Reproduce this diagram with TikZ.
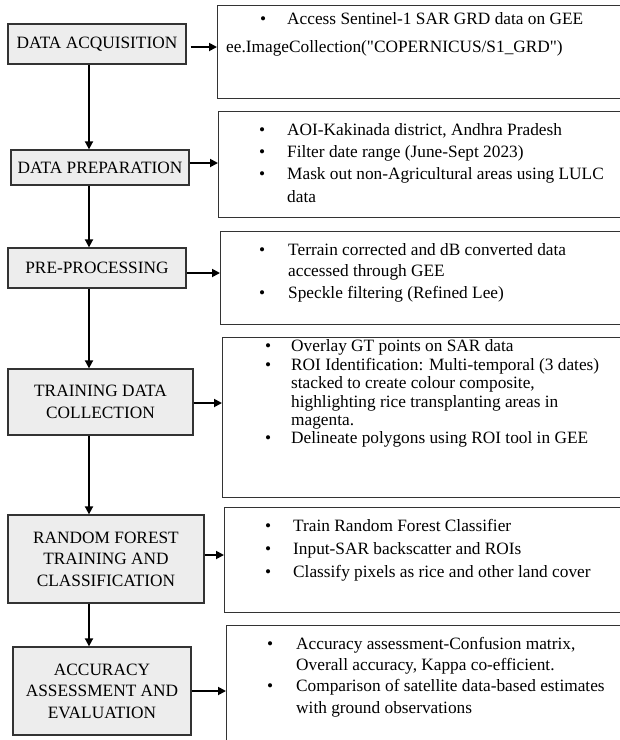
\documentclass[tikz,border=0pt]{standalone}
\usepackage{fontspec}
\setmainfont{Liberation Serif}[Ligatures=TeXOff]
\usetikzlibrary{arrows.meta}
\newcommand\itm[2]{\makebox[#1][l]{\textbullet}#2}
\newcommand\cnt[2]{\hspace*{#1}#2}
\begin{document}
\begin{tikzpicture}[x=1pt,y=-1pt,
  lbox/.style={draw=black!80, line width=1.3pt, fill=black!7, align=center,
    inner sep=0pt, font=\fontsize{17.3}{21.5}\selectfont},
  rbox/.style={draw=black!80, line width=1.3pt, anchor=north west, inner sep=0pt},
  rtext/.style={align=left, inner sep=0pt, anchor=north west,
    font=\fontsize{17.3}{#1}\selectfont},
  arr/.style={line width=1.8pt, -{Triangle[length=8pt,width=8pt]}}]
\clip (0,0) rectangle (620,740);
\fill[white] (0,0) rectangle (620,740);
\coordinate (col) at (89,0);
% left column
\node[lbox, minimum width=178pt, minimum height=40pt] (da) at (97,44) {DATA ACQUISITION};
\node[lbox, minimum width=178pt, minimum height=35pt] (dp) at (100,167.5) {DATA PREPARATION};
\node[lbox, minimum width=178pt, minimum height=40pt] (pp) at (97,268) {PRE-PROCESSING};
\node[lbox, minimum width=185pt, minimum height=66pt] (tdc) at (100.5,402) {TRAINING DATA\\COLLECTION};
\node[lbox, minimum width=196pt, minimum height=88pt] (rf) at (106,559) {RANDOM FOREST\\TRAINING AND\\CLASSIFICATION};
\node[lbox, minimum width=178pt, minimum height=88pt] (acc) at (102,691) {ACCURACY\\ASSESSMENT AND\\EVALUATION};
% right boxes
\node[rbox, minimum width=423pt, minimum height=93pt] (r1) at (217,5) {};
\node[rbox, minimum width=422pt, minimum height=106pt] (r2) at (218,111) {};
\node[rbox, minimum width=420pt, minimum height=93pt] (r3) at (220,231) {};
\node[rbox, minimum width=418pt, minimum height=160pt] (r4) at (222,337) {};
\node[rbox, minimum width=416pt, minimum height=105pt] (r5) at (224,507) {};
\node[rbox, minimum width=414pt, minimum height=135pt] (r6) at (226,625) {};
% right texts
\node[rtext=28] (t1) at (226,4.4) {\strut\cnt{34pt}{\itm{27pt}{Access Sentinel-1 SAR GRD data on GEE}}\\
  ee.ImageCollection("COPERNICUS/S1\_GRD")};
\node[rtext=22.3] (t2) at (259,119.4) {\strut\itm{28pt}{AOI-Kakinada district, Andhra Pradesh}\\
  \itm{28pt}{Filter date range (June-Sept 2023)}\\
  \itm{28pt}{Mask out non-Agricultural areas using LULC}\\
  \cnt{28pt}{data}};
\node[rtext=21.5] (t3) at (259,240) {\strut\itm{29pt}{Terrain corrected and dB converted data}\\
  \cnt{29pt}{accessed through GEE}\\
  \itm{29pt}{Speckle filtering (Refined Lee)}};
\node[rtext=18.4] (t4) at (265,338.8) {\strut\itm{26pt}{Overlay GT points on SAR data}\\
  \itm{26pt}{ROI Identification: Multi-temporal (3 dates)}\\
  \cnt{26pt}{stacked to create colour composite,}\\
  \cnt{26pt}{highlighting rice transplanting areas in}\\
  \cnt{26pt}{magenta.}\\
  \itm{26pt}{Delineate polygons using ROI tool in GEE}};
\node[rtext=22.7] (t5) at (265,515.8) {\strut\itm{28pt}{Train Random Forest Classifier}\\
  \itm{28pt}{Input-SAR backscatter and ROIs}\\
  \itm{28pt}{Classify pixels as rice and other land cover}};
\node[rtext=21.3] (t6) at (267,634.1) {\strut\itm{29pt}{Accuracy assessment-Confusion matrix,}\\
  \cnt{29pt}{Overall accuracy, Kappa co-efficient.}\\
  \itm{29pt}{Comparison of satellite data-based estimates}\\
  \cnt{29pt}{with ground observations}};
% horizontal arrows
\draw[arr] ([shift={(4pt,-3pt)}]da.east) -- ([yshift=-3pt]da.east -| r1.west);
\draw[arr] ([yshift=4.5pt]dp.east) -- ([yshift=4.5pt]dp.east -| r2.west);
\draw[arr] ([yshift=-5pt]pp.east) -- ([yshift=-5pt]pp.east -| r3.west);
\draw[arr] ([yshift=-1pt]tdc.east) -- ([yshift=-1pt]tdc.east -| r4.west);
\draw[arr] ([yshift=4pt]rf.east) -- ([yshift=4pt]rf.east -| r5.west);
\draw[arr] (acc.east) -- (acc.east -| r6.west);
% vertical arrows
\draw[arr] (da.south -| col) -- (dp.north -| col);
\draw[arr] (dp.south -| col) -- (pp.north -| col);
\draw[arr] (pp.south -| col) -- (tdc.north -| col);
\draw[arr] (tdc.south -| col) -- (rf.north -| col);
\draw[arr] (rf.south -| col) -- (acc.north -| col);
\end{tikzpicture}
\end{document}
